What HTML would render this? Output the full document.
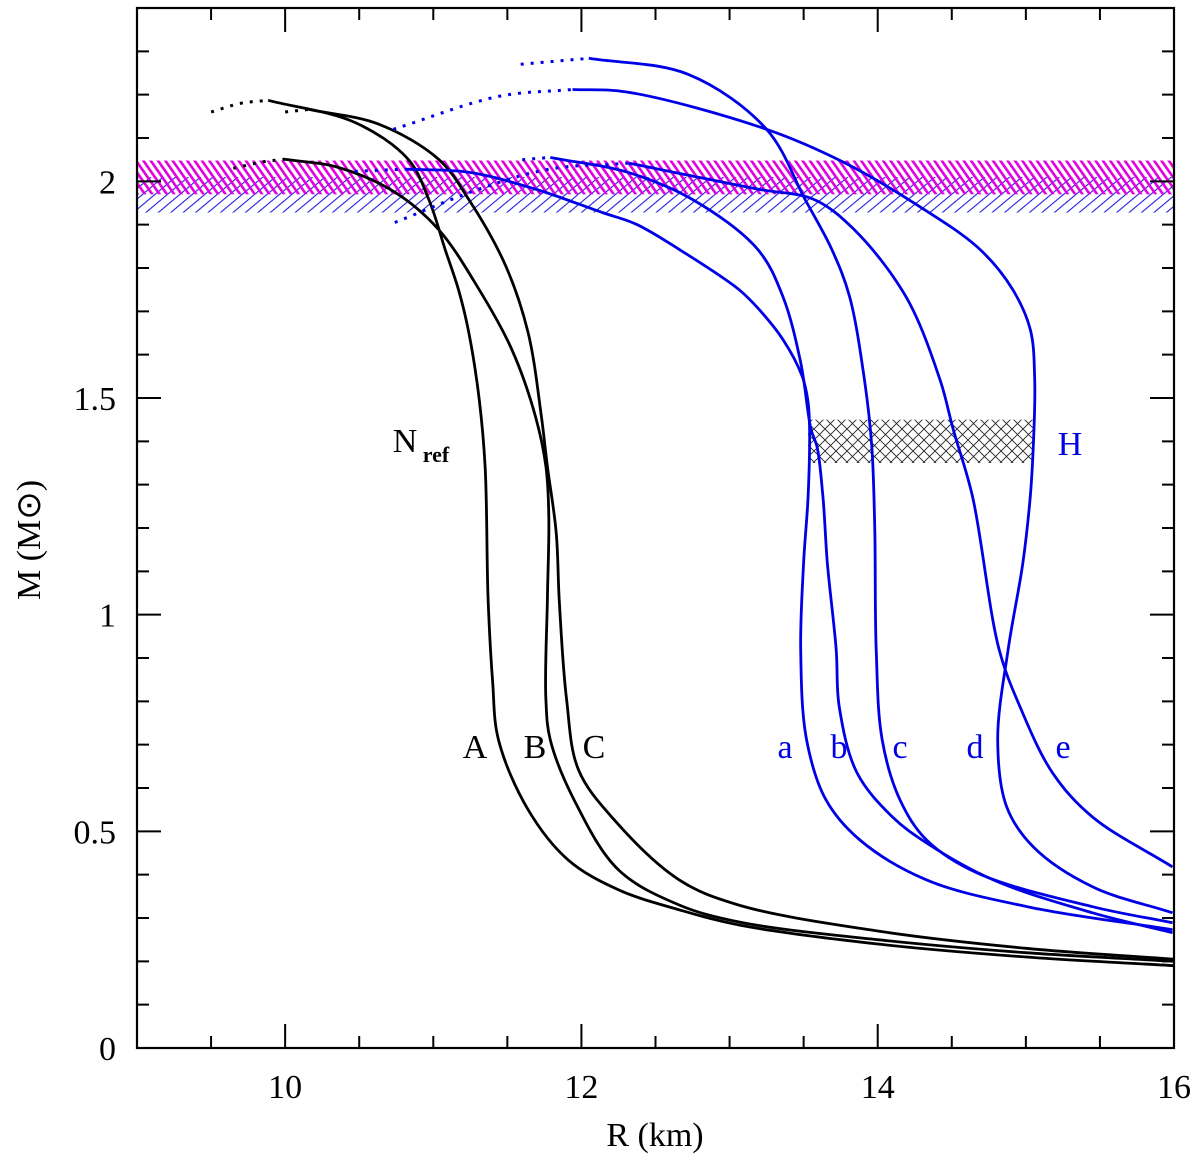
<!DOCTYPE html>
<html><head><meta charset="utf-8"><style>
html,body{margin:0;padding:0;background:#fff;}
svg{display:block;font-family:"Liberation Serif",serif;}
</style></head><body>
<svg id="chart" width="1200" height="1156" viewBox="0 0 1200 1156" xmlns="http://www.w3.org/2000/svg">
<defs>
<pattern id="magHatch" patternUnits="userSpaceOnUse" width="6" height="6" patternTransform="rotate(-35)">
<rect x="0" y="0" width="2.6" height="6" fill="#e000e0"/></pattern>
<pattern id="blueHatch" patternUnits="userSpaceOnUse" width="8" height="8" patternTransform="rotate(50)">
<rect x="0" y="0" width="1.1" height="8" fill="#2020e0"/></pattern>
<pattern id="crossHatch" patternUnits="userSpaceOnUse" width="11" height="11">
<path d="M0,0 L11,11 M11,0 L0,11" stroke="#222" stroke-width="0.9" fill="none"/></pattern>
</defs>
<g id="bands"></g>
<g id="curves"></g>
<g id="axes"></g>
<g id="labels"></g>
</svg>
<script>
const xTicksMajor = [10, 12, 14, 16];
const yTicksMajor = [0, 0.5, 1, 1.5, 2];
const yTickLabels = ["0", "0.5", "1", "1.5", "2"];
const xTickLabels = ["10", "12", "14", "16"];
const bandMagenta = [1.97, 2.048];
const bandBlue = [1.928, 2.01];
const hBandR = [13.53, 15.05];
const hBandM = [1.35, 1.45];

const A_dot = [[9.5,2.16],[9.7,2.18],[9.885,2.187]];
const A_sol = [[9.885,2.187],[10.47,2.136],[10.83,2.051],[10.97,1.958],[11.08,1.843],[11.17,1.75],[11.24,1.651],[11.31,1.497],[11.35,1.342],[11.37,1.035],[11.40,0.85],[11.44,0.711],[11.64,0.55],[11.91,0.434],[12.25,0.365],[12.66,0.319],[13.06,0.284],[14,0.24],[15,0.21],[16,0.19]];
const B_dot = [[9.65,2.03],[9.85,2.045],[10.0,2.051]];
const B_sol = [[10.0,2.051],[10.36,2.032],[10.74,1.975],[11.035,1.889],[11.31,1.75],[11.53,1.612],[11.69,1.457],[11.76,1.342],[11.78,1.226],[11.77,1.035],[11.76,0.804],[11.79,0.711],[11.95,0.573],[12.25,0.411],[12.66,0.33],[13.06,0.291],[14,0.25],[15,0.22],[16,0.2]];
const C_dot = [[10.0,2.16],[10.16,2.166]];
const C_sol = [[10.16,2.166],[10.63,2.132],[11.035,2.051],[11.24,1.958],[11.49,1.804],[11.64,1.651],[11.73,1.457],[11.77,1.342],[11.83,1.189],[11.85,1.035],[11.90,0.804],[11.98,0.642],[12.22,0.527],[12.66,0.388],[13.06,0.33],[14,0.27],[15,0.23],[16,0.205]];

const a_dot = [[10.47,2.023],[10.81,2.028]];
const a_sol = [[10.81,2.028],[11.24,2.021],[11.69,1.982],[12.14,1.928],[12.37,1.901],[12.66,1.843],[13.06,1.751],[13.20,1.704],[13.36,1.635],[13.49,1.55],[13.53,1.49],[13.54,1.427],[13.53,1.273],[13.50,1.12],[13.48,0.919],[13.52,0.711],[13.65,0.573],[13.88,0.48],[14.33,0.388],[15.01,0.326],[15.99,0.273]];
const b_dot = [[11.6,2.05],[11.79,2.055]];
const b_sol = [[11.79,2.055],[12.31,2.021],[12.75,1.958],[13.19,1.843],[13.36,1.734],[13.48,1.582],[13.55,1.427],[13.59,1.388],[13.63,1.273],[13.66,1.12],[13.72,0.919],[13.74,0.788],[13.86,0.635],[14.10,0.533],[14.33,0.473],[14.78,0.388],[15.45,0.312],[15.99,0.266]];
const c_dot = [[11.59,2.27],[12.05,2.284]];
const c_sol = [[12.05,2.284],[12.72,2.247],[13.25,2.12],[13.51,1.958],[13.69,1.843],[13.81,1.734],[13.91,1.543],[13.96,1.388],[13.98,1.196],[13.99,0.919],[14.03,0.711],[14.15,0.573],[14.33,0.48],[14.67,0.404],[15.45,0.326],[15.99,0.289]];
const d_dot = [[10.73,2.12],[11.44,2.196],[11.94,2.212]];
const d_sol = [[11.94,2.212],[12.31,2.206],[13.25,2.12],[13.77,2.044],[14.24,1.951],[14.69,1.843],[14.91,1.751],[15.03,1.658],[15.06,1.543],[15.05,1.388],[15.03,1.273],[14.98,1.12],[14.88,0.919],[14.81,0.711],[14.87,0.557],[15.05,0.464],[15.45,0.372],[15.99,0.312]];
const e_dot = [[10.74,1.905],[11.31,1.982],[11.78,2.028],[12.32,2.042]];
const e_sol = [[12.32,2.042],[13.19,1.982],[13.57,1.958],[13.84,1.889],[14.19,1.734],[14.42,1.543],[14.51,1.427],[14.64,1.273],[14.82,0.919],[14.96,0.788],[15.18,0.635],[15.45,0.533],[15.99,0.418]];

const X0=137, X1=1174, Y0=1048, Y1=8, RMIN=9, RMAX=16, MMIN=0, MMAX=2.4;
function xs(r){return X0+(r-RMIN)/(RMAX-RMIN)*(X1-X0);}
function ys(m){return Y0-(m-MMIN)/(MMAX-MMIN)*(Y0-Y1);}
const NS="http://www.w3.org/2000/svg";
function mk(tag,parent){const e=document.createElementNS(NS,tag);parent.appendChild(e);return e;}
function smooth(pts){
  const p=pts.map(q=>[xs(q[0]),ys(q[1])]);
  const f=v=>v.toFixed(1);
  let d="M"+f(p[0][0])+","+f(p[0][1]);
  const dist=(u,v)=>Math.pow(Math.hypot(u[0]-v[0],u[1]-v[1]),0.5);
  for(let i=0;i<p.length-1;i++){
    const p1=p[i],p2=p[i+1];
    const p0=p[i-1]||[2*p1[0]-p2[0],2*p1[1]-p2[1]];
    const p3=p[i+2]||[2*p2[0]-p1[0],2*p2[1]-p1[1]];
    const d1=dist(p0,p1)||1e-6,d2=dist(p1,p2)||1e-6,d3=dist(p2,p3)||1e-6;
    const c1=[0,1].map(k=>(d1*d1*p2[k]-d2*d2*p0[k]+(2*d1*d1+3*d1*d2+d2*d2)*p1[k])/(3*d1*(d1+d2)));
    const c2=[0,1].map(k=>(d3*d3*p1[k]-d2*d2*p3[k]+(2*d3*d3+3*d3*d2+d2*d2)*p2[k])/(3*d3*(d3+d2)));
    d+=" C"+f(c1[0])+","+f(c1[1])+" "+f(c2[0])+","+f(c2[1])+" "+f(p2[0])+","+f(p2[1]);
  }
  return d;
}
const bands=document.getElementById('bands');
let r=mk('rect',bands);


r.setAttribute('x',X0);r.setAttribute('width',X1-X0);
r.setAttribute('y',ys(bandBlue[1]));r.setAttribute('height',ys(bandBlue[0])-ys(bandBlue[1]));
r.setAttribute('fill','url(#blueHatch)');
r=mk('rect',bands);


r.setAttribute('x',X0);r.setAttribute('width',X1-X0);
r.setAttribute('y',ys(bandMagenta[1]));r.setAttribute('height',ys(bandMagenta[0])-ys(bandMagenta[1]));
r.setAttribute('fill','url(#magHatch)');
r=mk('rect',bands);


r.setAttribute('x',xs(hBandR[0]));r.setAttribute('width',xs(hBandR[1])-xs(hBandR[0]));
r.setAttribute('y',ys(hBandM[1]));r.setAttribute('height',ys(hBandM[0])-ys(hBandM[1]));
r.setAttribute('fill','url(#crossHatch)');

const curves=document.getElementById('curves');
const series=[["A",A_dot,A_sol,"#000"],["B",B_dot,B_sol,"#000"],["C",C_dot,C_sol,"#000"],
["a",a_dot,a_sol,"#0000e6"],["b",b_dot,b_sol,"#0000e6"],["c",c_dot,c_sol,"#0000e6"],["d",d_dot,d_sol,"#0000e6"],["e",e_dot,e_sol,"#0000e6"]];
series.forEach(s=>{
  let p=mk('path',curves);
  
  
  p.setAttribute('d',smooth(s[1]));p.setAttribute('fill','none');p.setAttribute('stroke',s[3]);
  p.setAttribute('stroke-width','3');p.setAttribute('stroke-dasharray','3 7');
  p=mk('path',curves);
  
  
  p.setAttribute('d',smooth(s[2]));p.setAttribute('fill','none');p.setAttribute('stroke',s[3]);
  p.setAttribute('stroke-width','2.8');
});

const axes=document.getElementById('axes');
let fr=mk('rect',axes);


fr.setAttribute('x',X0);fr.setAttribute('y',Y1);fr.setAttribute('width',X1-X0);fr.setAttribute('height',Y0-Y1);
fr.setAttribute('fill','none');fr.setAttribute('stroke','#000');fr.setAttribute('stroke-width','2.2');
let td="";
for(let v=9.5;v<16;v+=0.5){const maj=xTicksMajor.includes(v);const L=maj?24:12;const x=xs(v);
  td+=`M${x},${Y0}v${-L}M${x},${Y1}v${L}`;}
for(let k=1;k<24;k++){const v=k/10;const maj=(k%5===0);const L=maj?24:12;const y=ys(v);
  td+=`M${X0},${y}h${L}M${X1},${y}h${-L}`;}
let tk=mk('path',axes);


tk.setAttribute('d',td);tk.setAttribute('stroke','#000');tk.setAttribute('stroke-width','2');

const lab=document.getElementById('labels');
function txt(str,x,y,opts){const t=mk('text',lab);t.textContent=str;t.setAttribute('x',x);t.setAttribute('y',y);
  t.setAttribute('font-size',opts.size||34);t.setAttribute('fill',opts.fill||'#000');
  if(opts.anchor)t.setAttribute('text-anchor',opts.anchor);return t;}
xTicksMajor.forEach((v,i)=>{const t=txt(xTickLabels[i],xs(v),1098,{anchor:'middle'});
  
  });
yTicksMajor.forEach((v,i)=>{const t=txt(yTickLabels[i],116,ys(v)+12,{anchor:'end'});
  
  });
let t=txt('R (km)',655,1146,{anchor:'middle'});


t=mk('text',lab);t.setAttribute('transform','translate(40,540) rotate(-90)');t.setAttribute('text-anchor','middle');t.setAttribute('font-size','34');
t.textContent='M (M\u2299)';


const curveLabels=[["A",475,"#000"],["B",535,"#000"],["C",594,"#000"],["a",785,"#0000e6"],["b",839,"#0000e6"],["c",900,"#0000e6"],["d",975,"#0000e6"],["e",1063,"#0000e6"]];
curveLabels.forEach(c=>{const e=txt(c[0],c[1],758,{anchor:'middle',fill:c[2]});
  
  });
t=txt('H',1070,455,{anchor:'middle',fill:'#0000e6'});


t=txt('N',405,452,{anchor:'middle'});


t=txt('ref',436,462,{anchor:'middle',size:22});t.setAttribute('font-weight','bold');


</script>
</body></html>
